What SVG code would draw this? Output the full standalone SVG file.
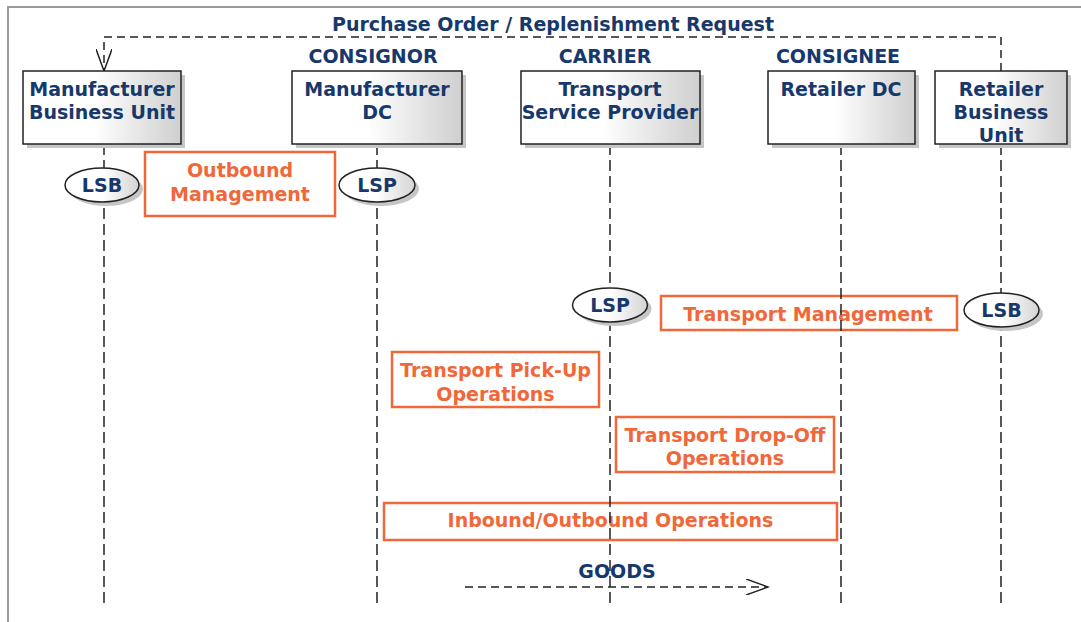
<svg xmlns="http://www.w3.org/2000/svg" width="1081" height="622" viewBox="0 0 1081 622">
  <defs>
    <linearGradient id="boxGrad" x1="0" y1="0" x2="1" y2="0">
      <stop offset="0" stop-color="#ffffff"/>
      <stop offset="0.45" stop-color="#ffffff"/>
      <stop offset="1" stop-color="#cfcfcf"/>
    </linearGradient>
    <linearGradient id="ellGrad" x1="0" y1="0" x2="1" y2="0">
      <stop offset="0" stop-color="#ffffff"/>
      <stop offset="0.5" stop-color="#ffffff"/>
      <stop offset="1" stop-color="#d4d4d4"/>
    </linearGradient>
    <marker id="openArrow" viewBox="0 0 24 16" refX="22" refY="8" markerWidth="24" markerHeight="16" markerUnits="userSpaceOnUse" orient="auto">
      <path d="M0,0 L22,8 L0,16" fill="none" stroke="#222" stroke-width="1.5"/>
    </marker>
  </defs>
  <style>
    .frame { stroke: #9a9a9a; stroke-width: 2; fill: none; }
    .box { fill: url(#boxGrad); stroke: #222; stroke-width: 1.5; }
    .shadow { fill: #c6c6c6; }
    .ell { fill: url(#ellGrad); stroke: #222; stroke-width: 1.5; }
    .act { fill: none; stroke: #f0683a; stroke-width: 2.5; }
    .life { stroke: #222; stroke-width: 1.5; stroke-dasharray: 11 5; fill: none; }
    .msg { stroke: #222; stroke-width: 1.5; stroke-dasharray: 8 5; fill: none; }
    .navy { font-family: "DejaVu Sans", Verdana, sans-serif; font-weight: bold; font-size: 19px; fill: #17386b; text-anchor: middle; }
    .orange { font-family: "DejaVu Sans", Verdana, sans-serif; font-weight: bold; font-size: 19px; fill: #f0683a; text-anchor: middle; }
  </style>

  <rect x="0" y="0" width="1081" height="622" fill="#ffffff"/>
  <path class="frame" d="M8,622 L8,7 L1081,7"/>

  <!-- activity boxes (under lifelines) -->
  <g id="outbound-management">
    <rect class="act" x="145" y="152" width="190" height="64"/>
    <text class="orange" x="240" y="177">Outbound</text>
    <text class="orange" x="240" y="201">Management</text>
  </g>
  <g id="transport-management">
    <rect class="act" x="661" y="296" width="296" height="34"/>
    <text class="orange" x="808" y="321">Transport Management</text>
  </g>
  <g id="transport-pickup">
    <rect class="act" x="392" y="352" width="207" height="55"/>
    <text class="orange" x="495.5" y="377">Transport Pick-Up</text>
    <text class="orange" x="495.5" y="401">Operations</text>
  </g>
  <g id="transport-dropoff">
    <rect class="act" x="616" y="417" width="218" height="55"/>
    <text class="orange" x="725" y="442">Transport Drop-Off</text>
    <text class="orange" x="725" y="465">Operations</text>
  </g>
  <g id="inbound-outbound">
    <rect class="act" x="384" y="503" width="453" height="37"/>
    <text class="orange" x="610.5" y="527">Inbound/Outbound Operations</text>
  </g>

  <!-- connectors -->
  <g id="connectors">
    <line class="life" x1="104" y1="144" x2="104" y2="606"/>
    <line class="life" x1="377" y1="144" x2="377" y2="606"/>
    <line class="life" x1="610" y1="144" x2="610" y2="606"/>
    <line class="life" x1="841" y1="144" x2="841" y2="606"/>
    <line class="life" x1="1001" y1="144" x2="1001" y2="606"/>
    <path id="purchase-order" class="msg" d="M1001,71 L1001,37 L104,37 L104,71" marker-end="url(#openArrow)"/>
    <text class="navy" x="553" y="31">Purchase Order / Replenishment Request</text>
    <path id="goods" class="msg" d="M465,587 L768,587" marker-end="url(#openArrow)"/>
    <text class="navy" x="617" y="578">GOODS</text>
  </g>

  <!-- role nodes -->
  <g id="manufacturer-business-unit">
    <rect class="shadow" x="27" y="75" width="158" height="73"/>
    <rect class="box" x="23" y="71" width="158" height="73"/>
    <text class="navy" x="102" y="96">Manufacturer</text>
    <text class="navy" x="102" y="119">Business Unit</text>
  </g>
  <g id="manufacturer-dc">
    <text class="navy" x="373" y="63">CONSIGNOR</text>
    <rect class="shadow" x="296" y="75" width="170" height="73"/>
    <rect class="box" x="292" y="71" width="170" height="73"/>
    <text class="navy" x="377" y="96">Manufacturer</text>
    <text class="navy" x="377" y="119">DC</text>
  </g>
  <g id="transport-service-provider">
    <text class="navy" x="605" y="63">CARRIER</text>
    <rect class="shadow" x="525" y="75" width="179" height="73"/>
    <rect class="box" x="521" y="71" width="179" height="73"/>
    <text class="navy" x="610" y="96">Transport</text>
    <text class="navy" x="610" y="119">Service Provider</text>
  </g>
  <g id="retailer-dc">
    <text class="navy" x="838" y="63">CONSIGNEE</text>
    <rect class="shadow" x="772" y="75" width="147" height="73"/>
    <rect class="box" x="768" y="71" width="147" height="73"/>
    <text class="navy" x="841" y="96">Retailer DC</text>
  </g>
  <g id="retailer-business-unit">
    <rect class="shadow" x="939" y="75" width="132" height="73"/>
    <rect class="box" x="935" y="71" width="132" height="73"/>
    <text class="navy" x="1001" y="96">Retailer</text>
    <text class="navy" x="1001" y="119">Business</text>
    <text class="navy" x="1001" y="142">Unit</text>
  </g>

  <!-- role ellipses -->
  <g id="lsb-manufacturer">
    <ellipse class="shadow" cx="106" cy="189" rx="37" ry="17"/>
    <ellipse class="ell" cx="102" cy="185" rx="37" ry="17"/>
    <text class="navy" x="102" y="192">LSB</text>
  </g>
  <g id="lsp-manufacturer-dc">
    <ellipse class="shadow" cx="381" cy="189" rx="38" ry="17"/>
    <ellipse class="ell" cx="377" cy="185" rx="38" ry="17"/>
    <text class="navy" x="377" y="192">LSP</text>
  </g>
  <g id="lsp-carrier">
    <ellipse class="shadow" cx="614" cy="309" rx="37.5" ry="17"/>
    <ellipse class="ell" cx="610" cy="305" rx="37.5" ry="17"/>
    <text class="navy" x="610" y="312">LSP</text>
  </g>
  <g id="lsb-retailer">
    <ellipse class="shadow" cx="1005.5" cy="314" rx="37.5" ry="17"/>
    <ellipse class="ell" cx="1001.5" cy="310" rx="37.5" ry="17"/>
    <text class="navy" x="1001.5" y="317">LSB</text>
  </g>
</svg>
